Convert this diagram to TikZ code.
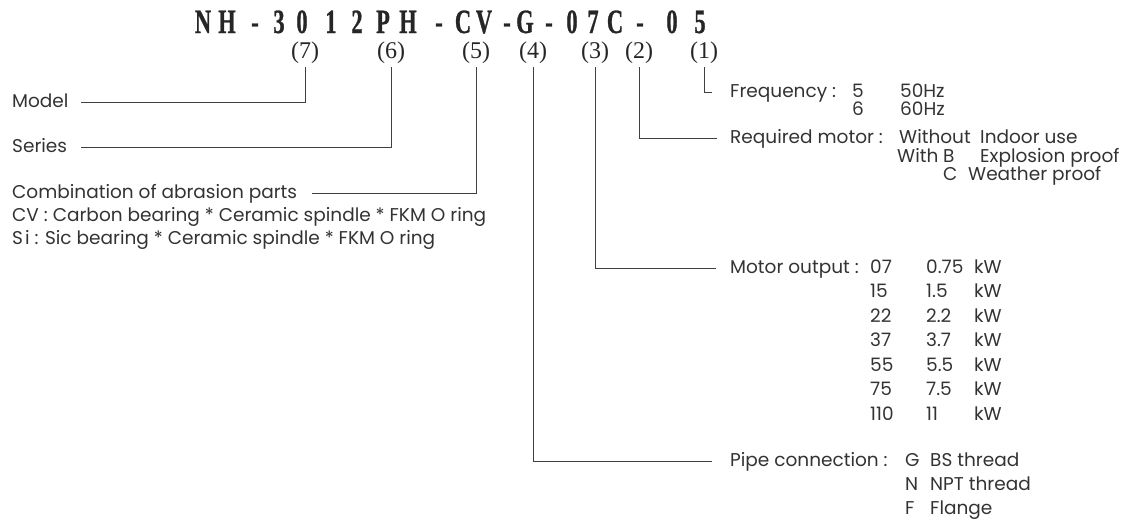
\documentclass[tikz,border=0pt]{standalone}
\usepackage{fontspec}
\setmainfont{Poppins}
\newfontfamily\titlefont{Liberation Serif}[FakeStretch=0.66,FakeBold=0.8]
\newfontfamily\labfont{Liberation Serif}
\begin{document}
\begin{tikzpicture}[x=1pt,y=-1pt,
  ttl/.style={anchor=base,inner sep=0pt,font=\titlefont\bfseries\fontsize{34}{34}\selectfont,text=black!85},
  lab/.style={anchor=base,inner sep=0pt,font=\labfont\fontsize{24}{24}\selectfont,text=black!85},
  txt/.style={anchor=base west,inner sep=0pt,text height=10pt,text depth=0pt,font=\fontsize{18.5}{21}\selectfont,text=black!80},
  con/.style={draw=black!75,line width=0.8pt}]
\useasboundingbox (0,0) rectangle (1124,520);
% title
\foreach \c/\x [count=\i] in {N/203,H/227,-/255,3/279,0/302,1/331,2/357,P/383,H/408,-/439,C/463,V/484,-/507,G/525,-/549,0/572,7/593,C/615,-/640,0/672,5/700}
  \node[ttl] (t\i) at (\x,33) {\c};
% labels
\node[lab] (l7) at (305,58) {(7)};
\node[lab] (l6) at (391,58) {(6)};
\node[lab] (l5) at (476,58) {(5)};
\node[lab] (l4) at (533,58) {(4)};
\node[lab] (l3) at (595,58) {(3)};
\node[lab] (l2) at (639,58) {(2)};
\node[lab] (l1) at (704,58) {(1)};
% left texts
\node[txt] (model) at (12,107) {Model};
\node[txt] (series) at (12,152) {Series};
\node[txt] (comb) at (12,198) {Combination of abrasion parts};
\node[txt] (cv) at (12,221) {CV : Carbon bearing * Ceramic spindle * FKM O ring};
\node[txt] (si) at (12,244) {S\kern2pt i : Sic bearing * Ceramic spindle * FKM O ring};
% frequency
\node[txt] (freq) at (730,97) {Frequency :};
\node[txt] (f5) at (852,97) {5};
\node[txt] (f50) at (900,97) {50Hz};
\node[txt] (f6) at (852,115) {6};
\node[txt] (f60) at (900,115) {60Hz};
% required motor
\node[txt] (req) at (730,143) {Required motor :};
\node[txt] (rwo) at (899,143) {Without};
\node[txt] (rin) at (980,143) {Indoor use};
\node[txt] (rw) at (897,162) {With};
\node[txt] (rb) at (943,162) {B};
\node[txt] (rex) at (980,162) {Explosion proof};
\node[txt] (rc) at (943,180) {C};
\node[txt] (rwe) at (968,180) {Weather proof};
% motor output
\node[txt] (mot) at (730,273) {Motor output :};
\foreach \n/\v/\y [count=\i] in {07/0.75/273,15/1.5/297,22/2.2/322,37/3.7/346,55/5.5/371,75/7.5/395,110/11/420}{
  \node[txt] (mn\i) at (870,\y) {\n};
  \node[txt] (mv\i) at (926,\y) {\v};
  \node[txt] (mk\i) at (974,\y) {kW};
}
% pipe connection
\node[txt] (pipe) at (730,466) {Pipe connection :};
\node[txt] (pg) at (905,466) {G};
\node[txt] (pgt) at (930,466) {BS thread};
\node[txt] (pn) at (905,490) {N};
\node[txt] (pnt) at (930,490) {NPT thread};
\node[txt] (pf) at (905,514) {F};
\node[txt] (pft) at (930,514) {Flange};
% connectors
\draw[con] ([yshift=-4pt]l7.south) |- ([xshift=12pt]model.east);
\draw[con] ([yshift=-4pt]l6.south) |- ([xshift=14pt]series.east);
\draw[con] ([yshift=-4pt]l5.south) |- ([xshift=15pt]comb.east);
\draw[con] ([yshift=-4pt]l1.south) |- ([xshift=-18pt]freq.west);
\draw[con] ([yshift=-4pt]l2.south) |- ([xshift=-13pt]req.west);
\draw[con] ([yshift=-4pt]l3.south) |- ([xshift=-14pt]mot.west);
\draw[con] ([yshift=-4pt]l4.south) |- ([xshift=-18pt]pipe.west);
\end{tikzpicture}
\end{document}
